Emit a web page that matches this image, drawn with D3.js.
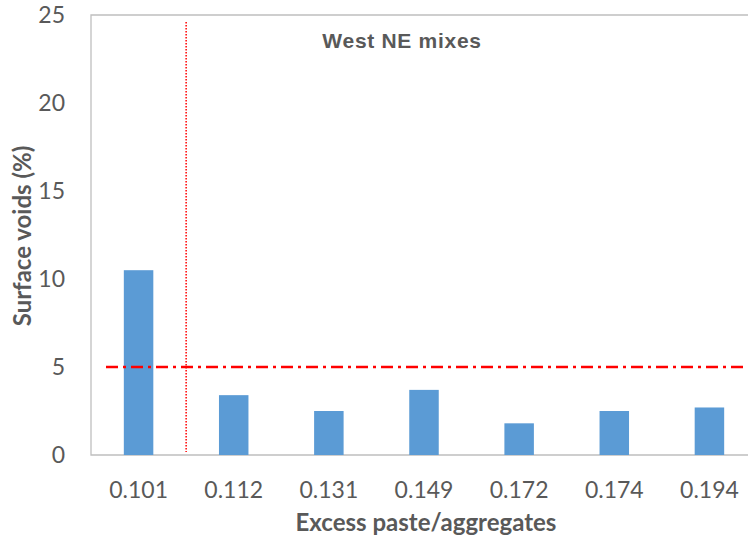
<!DOCTYPE html>
<html><head><meta charset="utf-8">
<script src="https://cdn.jsdelivr.net/npm/d3@7"></script>
<style>body{margin:0;background:#fff;}svg{display:block;}</style>
</head><body>
<script>
const categories = ["0.101","0.112","0.131","0.149","0.172","0.174","0.194"];
const voids = [10.5, 3.4, 2.5, 3.7, 1.8, 2.5, 2.7];
const yTicks = [0,5,10,15,20,25];
const threshold = 5;
const title = "West NE mixes";
const xTitle = "Excess paste/aggregates";
const yTitle = "Surface voids (%)";

const W = 748, H = 542;
const m = {left: 91, top: 15, right: 757, bottom: 455};
const svg = d3.select("body").append("svg").attr("width", W).attr("height", H);

const x = d3.scaleBand().domain(categories).range([m.left, m.right]).paddingInner(0.69).paddingOuter(0.345);
const y = d3.scaleLinear().domain([0,25]).range([m.bottom, m.top]);
const band = d3.scaleBand().domain(categories).range([m.left, m.right]);

// border
svg.append("path").attr("d", `M${m.right},${m.top}H${m.left}V${m.bottom}H${m.right}`)
  .attr("fill","none").attr("stroke","#BFBFBF").attr("stroke-width",1.3);

// bars
svg.selectAll("rect.bar").data(voids).enter().append("rect")
  .attr("x",(d,i)=>x(categories[i])).attr("width",x.bandwidth())
  .attr("y",d=>y(d)).attr("height",d=>y(0)-y(d)).attr("fill","#5B9BD5");

// threshold line
svg.append("line").attr("x1",m.left+15).attr("x2",W).attr("y1",y(threshold)).attr("y2",y(threshold))
  .attr("stroke","#FF0000").attr("stroke-width",2.5).attr("stroke-dasharray","12,5,3,5");

// vertical dotted line at boundary between first two categories
const vx = band(categories[1]);
svg.append("line").attr("x1",vx).attr("x2",vx).attr("y1",22).attr("y2",452)
  .attr("stroke","#FF0000").attr("stroke-width",1.5).attr("stroke-dasharray","1.5,1.5");

const font = "Lato, 'Open Sans', sans-serif";
// y axis ticks
const yAxis = d3.axisLeft(y).tickValues(yTicks).tickSize(0).tickPadding(26);
const gy = svg.append("g").attr("transform",`translate(${m.left},0)`).call(yAxis);
gy.select(".domain").remove();
gy.selectAll("text").attr("font-family",font).attr("font-size",23).attr("fill","#595959");

// x axis
const xAxis = d3.axisBottom(band).tickSize(0).tickPadding(27);
const gx = svg.append("g").attr("transform",`translate(0,${m.bottom})`).call(xAxis);
gx.select(".domain").remove();
gx.selectAll("text").attr("font-family",font).attr("font-size",23).attr("fill","#595959");

// titles
svg.append("text").attr("x",402).attr("y",48).attr("text-anchor","middle")
  .attr("font-family","'Liberation Sans', Arial, sans-serif").attr("font-weight","bold").attr("font-size",21)
  .attr("letter-spacing",0.7).attr("fill","#595959").text(title);
svg.append("text").attr("x",426).attr("y",531).attr("text-anchor","middle")
  .attr("font-family",font).attr("font-weight","bold").attr("font-size",24)
  .attr("fill","#595959").text(xTitle);
svg.append("text").attr("transform","translate(31,236) rotate(-90)").attr("text-anchor","middle")
  .attr("font-family",font).attr("font-weight","bold").attr("font-size",24)
  .attr("fill","#595959").text(yTitle);
</script>
</body></html>
